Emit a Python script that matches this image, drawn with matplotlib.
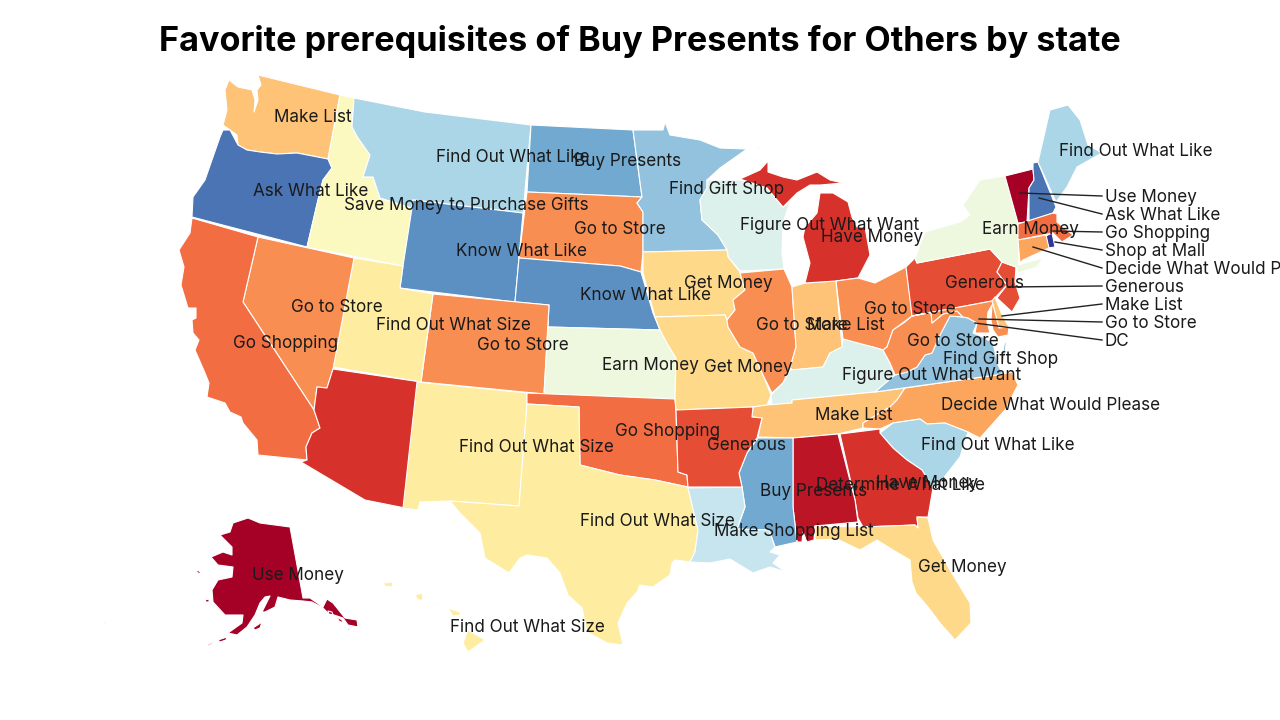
from matplotlib import pyplot as plt
from matplotlib.patches import Polygon

plt.rcParams['font.family'] = ['Inter', 'DejaVu Sans']

title = 'Favorite prerequisites of Buy Presents for Others by state'

# favorite prerequisite of each state
state_labels = {
    'AK': 'Use Money', 'VT': 'Use Money', 'AL': 'Determine What Like',
    'AZ': 'Have Money', 'MI': 'Have Money', 'GA': 'Have Money',
    'AR': 'Generous', 'PA': 'Generous', 'NJ': 'Generous',
    'CA': 'Go Shopping', 'OK': 'Go Shopping', 'MA': 'Go Shopping',
    'NV': 'Go to Store', 'CO': 'Go to Store', 'SD': 'Go to Store', 'IL': 'Go to Store',
    'OH': 'Go to Store', 'WV': 'Go to Store', 'MD': 'Go to Store',
    'NC': 'Decide What Would Please', 'CT': 'Decide What Would Please',
    'WA': 'Make List', 'TN': 'Make List', 'IN': 'Make List', 'DE': 'Make List',
    'IA': 'Get Money', 'MO': 'Get Money', 'FL': 'Get Money',
    'UT': 'Find Out What Size', 'NM': 'Find Out What Size', 'TX': 'Find Out What Size', 'HI': 'Find Out What Size',
    'ID': 'Save Money to Purchase Gifts', 'KS': 'Earn Money', 'NY': 'Earn Money',
    'WI': 'Figure Out What Want', 'KY': 'Figure Out What Want', 'LA': 'Make Shopping List',
    'MT': 'Find Out What Like', 'ME': 'Find Out What Like', 'SC': 'Find Out What Like',
    'MN': 'Find Gift Shop', 'VA': 'Find Gift Shop', 'ND': 'Buy Presents', 'MS': 'Buy Presents',
    'WY': 'Know What Like', 'NE': 'Know What Like', 'OR': 'Ask What Like', 'NH': 'Ask What Like',
    'RI': 'Shop at Mall',
}

label_colors = {
    'Use Money': '#a50026', 'Determine What Like': '#bb1526', 'Have Money': '#d6312b',
    'Generous': '#e54e35', 'Go Shopping': '#f36d42', 'Go to Store': '#f98e52',
    'Decide What Would Please': '#fca55d', 'Make List': '#fec376', 'Get Money': '#fed98a',
    'Find Out What Size': '#feeca0', 'Save Money to Purchase Gifts': '#fbf8c0', 'Earn Money': '#eef8df',
    'Figure Out What Want': '#ddf1ec', 'Make Shopping List': '#c6e5ef', 'Find Out What Like': '#abd6e8',
    'Find Gift Shop': '#92c2de', 'Buy Presents': '#72a9d0', 'Know What Like': '#5c90c2',
    'Ask What Like': '#4a74b4', 'Shop at Mall': '#313695',
}

# state outlines (no geodata available offline)
outlines = {
    'WA': [[(258,75),(340,95),(328,159),(297,153),(277,154),(260,152),(247,150),(238,145),(237,135),(230,130),(223,125),(227,110),(225,90),(229,80),(238,87),(252,90),(255,100),(254,112),(258,100),(257,90),(261,85)]],
    'OR': [[(223,130),(230,130),(238,145),(247,150),(260,152),(277,154),(297,153),(328,159),(332,168),(323,180),(318,200),(307,247),(192,217),(193,197),(205,180),(213,157),(220,137)]],
    'ID': [[(340,95),(354,98),(352,127),(358,138),(370,155),(363,177),(373,177),(380,198),(412,208),(403,266),(307,247),(318,200),(323,180),(332,168),(328,159)]],
    'MT': [[(354,98),(425,112),(531,125),(523,213),(413,200),(412,208),(380,198),(373,177),(363,177),(370,155),(358,138),(352,127)]],
    'WY': [[(413,200),(523,213),(515,302),(400,288),(403,266),(412,208)]],
    'ND': [[(531,125),(633,130),(642,197),(527,192)]],
    'SD': [[(527,192),(642,197),(637,203),(643,212),(643,252),(641,272),(620,266),(519,258)]],
    'NE': [[(519,258),(620,266),(641,272),(653,313),(660,330),(548,327),(549,305),(515,302)]],
    'CO': [[(433,294),(549,305),(544,394),(421,382)]],
    'UT': [[(354,258),(403,266),(400,288),(433,294),(421,382),(333,367)]],
    'NV': [[(258,237),(354,258),(333,369),(327,388),(317,387),(314,410),(243,302)]],
    'CA': [[(192,218),(258,237),(243,302),(314,410),(320,428),(312,433),(306,447),(307,460),(258,455),(257,440),(243,423),(241,417),(230,412),(225,403),(207,397),(209,383),(205,373),(195,350),(199,340),(193,333),(192,320),(196,318),(196,308),(188,308),(181,285),(184,267),(179,250),(190,233)]],
    'AZ': [[(333,369),(421,382),(405,508),(365,500),(301,462),(307,460),(306,447),(312,433),(320,428),(314,410),(317,387),(327,388)]],
    'NM': [[(417,382),(527,393),(527,404),(519,506),(450,501),(420,502),(418,510),(403,508)]],
    'KS': [[(548,327),(660,330),(668,345),(676,358),(675,399),(544,394)]],
    'OK': [[(527,393),(675,399),(676,410),(678,472),(687,475),(688,487),(655,480),(620,475),(580,465),(579,407),(527,404)]],
    'TX': [[(527,404),(579,407),(580,465),(620,475),(655,480),(688,487),(698,530),(695,552),(690,562),(675,560),(672,563),(670,575),(653,587),(640,585),(637,592),(627,603),(618,623),(623,645),(607,643),(587,632),(582,608),(568,595),(560,573),(547,558),(527,555),(520,558),(509,573),(485,558),(480,533),(460,513),(450,501),(519,506)]],
    'MN': [[(633,130),(663,130),(665,122),(670,135),(700,140),(720,148),(747,149),(720,168),(707,180),(707,188),(700,200),(702,220),(718,235),(727,250),(643,252),(643,212),(637,203),(642,197)]],
    'WI': [[(707,180),(740,180),(767,188),(783,207),(790,202),(783,223),(782,253),(784,269),(740,271),(728,257),(727,250),(718,235),(702,220),(700,200),(707,188)]],
    'IA': [[(643,252),(727,250),(728,257),(740,272),(745,290),(733,300),(735,310),(727,320),(725,315),(655,317),(643,273)]],
    'MO': [[(655,317),(725,315),(727,320),(728,327),(740,347),(753,353),(763,375),(771,395),(767,405),(753,407),(676,410),(675,399),(676,358),(668,345),(660,330)]],
    'IL': [[(740,273),(784,269),(792,287),(796,347),(790,368),(783,383),(772,393),(763,375),(753,353),(740,347),(728,327),(727,320),(735,310),(733,300),(745,290)]],
    'IN': [[(792,287),(805,283),(836,281),(842,347),(830,353),(823,367),(793,370),(790,368),(796,347)]],
    'MI': [[(805,283),(810,263),(803,237),(805,227),(817,213),(820,193),(833,193),(848,202),(852,217),(857,227),(865,227),(870,255),(858,278),(836,281)],
           [(740,179),(760,170),(768,161),(768,172),(783,177),(797,180),(817,172),(830,180),(843,183),(820,185),(810,185),(797,193),(783,207),(767,188)],
           [(754,151),(761,146),(760,148),(755,151)]],
    'OH': [[(836,281),(858,278),(875,283),(906,267),(910,297),(912,316),(893,330),(887,347),(883,350),(873,347),(853,343),(843,339)]],
    'KY': [[(772,405),(771,395),(783,383),(790,370),(823,367),(830,353),(842,347),(843,339),(873,347),(883,350),(890,363),(895,375),(875,392),(792,400),(792,403)]],
    'TN': [[(767,405),(792,403),(792,400),(875,392),(905,388),(897,400),(890,407),(863,423),(863,428),(838,434),(793,438),(758,437),(762,418),(752,417),(753,407)]],
    'NC': [[(905,388),(1003,374),(1012,372),(1018,385),(1005,410),(980,438),(968,432),(945,423),(927,424),(920,419),(893,423),(880,429),(863,428),(863,423),(890,407),(897,400)]],
    'SC': [[(880,433),(893,423),(920,419),(927,424),(945,423),(968,432),(960,457),(942,480),(933,488),(922,470),(907,460),(893,448)]],
    'GA': [[(840,434),(880,429),(880,433),(893,448),(907,460),(922,470),(933,488),(928,517),(917,517),(918,528),(915,525),(863,527),(858,518),(855,500)]],
    'AL': [[(793,438),(838,434),(855,500),(858,522),(815,526),(814,540),(807,542),(803,532),(802,542),(797,542),(793,507)]],
    'MS': [[(758,438),(793,438),(793,507),(797,542),(775,547),(769,530),(737,529),(745,507),(742,487),(739,473),(747,453)]],
    'LA': [[(688,488),(742,487),(745,507),(737,529),(769,530),(775,547),(770,552),(780,555),(773,563),(786,572),(770,567),(753,573),(730,559),(710,563),(690,562),(695,552),(698,530)]],
    'AR': [[(676,410),(753,407),(752,417),(762,418),(757,438),(747,453),(739,473),(742,487),(688,487),(687,475),(678,472)]],
    'FL': [[(815,526),(863,527),(915,525),(918,528),(917,517),(928,518),(933,540),(950,570),(970,603),(971,623),(955,640),(940,623),(928,607),(916,593),(912,582),(910,560),(893,550),(877,540),(860,550),(837,539),(815,540)]],
    'VA': [[(875,392),(895,375),(907,372),(917,367),(925,355),(932,353),(940,335),(950,316),(963,317),(968,318),(977,323),(973,333),(983,337),(993,343),(998,365),(1003,374)],
           [(1007,338),(1003,367),(1001,362),(1004,345)]],
    'WV': [[(912,316),(931,312),(932,323),(943,314),(957,311),(963,317),(950,316),(940,335),(932,353),(925,355),(917,367),(907,372),(895,375),(890,363),(883,350),(887,347),(893,330),(905,322)]],
    'PA': [[(906,267),(915,258),(917,263),(990,249),(1002,262),(997,272),(1007,285),(992,301),(912,316)]],
    'NJ': [[(1002,262),(1016,267),(1015,282),(1020,298),(1012,312),(997,298),(1007,285),(997,272)]],
    'DE': [[(992,301),(995,297),(1002,315),(1009,327),(999,328)]],
    'MD': [[(912,316),(992,301),(999,328),(1009,327),(1008,335),(998,337),(993,330),(991,320),(992,305),(988,312),(987,322),(990,333),(985,333),(975,333),(977,323),(968,318),(963,317),(957,311),(943,314),(932,323),(931,312)]],
    'NY': [[(1005,176),(1018,223),(1020,240),(1018,265),(1043,258),(1037,267),(1018,273),(1016,267),(1002,262),(990,249),(917,263),(915,258),(925,232),(960,222),(970,215),(963,205),(980,180)]],
    'VT': [[(1005,176),(1033,169),(1034,180),(1029,188),(1027,222),(1018,223)]],
    'NH': [[(1033,163),(1038,162),(1056,207),(1053,213),(1029,221),(1029,188),(1034,180),(1033,169)]],
    'ME': [[(1038,162),(1050,110),(1068,105),(1080,120),(1088,145),(1102,153),(1093,158),(1077,167),(1067,187),(1056,202)]],
    'MA': [[(1018,224),(1053,213),(1057,214),(1057,222),(1073,235),(1062,242),(1053,233),(1018,240)]],
    'RI': [[(1046,236),(1052,233),(1055,247),(1048,248)]],
    'CT': [[(1018,240),(1046,235),(1049,248),(1023,260),(1020,263)]],
    'AK': [[(248,518),(260,523),(290,527),(303,598),(310,598),(323,607),(327,599),(333,603),(345,618),(357,620),(358,627),(348,625),(343,618),(328,613),(323,608),(312,602),(303,601),(290,600),(278,597),(275,607),(265,612),(262,612),(267,602),(270,596),(265,597),(260,603),(255,615),(247,627),(237,635),(228,633),(242,623),(243,615),(225,615),(213,602),(212,590),(218,580),(232,577),(233,567),(218,565),(211,557),(223,552),(232,555),(232,547),(220,535),(230,532),(233,523)],
           [(253,628),(262,622),(260,628),(255,630)],
           [(207,645),(213,642),(212,644),(208,646)],
           [(218,640),(227,637),(226,640),(220,642)],
           [(195,570),(199,571),(202,574),(198,573)],
           [(205,600),(209,599),(209,602),(206,602)],
           [(328,611),(332,612),(333,615),(329,614)],
           [(337,617),(342,620),(343,623),(339,621)],
           [(347,628),(350,629),(349,631)],
           [(188,652),(190,650),(190,652)],
           [(104,623),(106,622),(106,624)]],
    'HI': [[(383,583),(393,582),(392,587),(385,586)],
           [(415,595),(422,593),(423,600),(418,600)],
           [(435,604),(440,603),(440,605)],
           [(448,608),(460,612),(460,615),(453,616)],
           [(468,630),(485,640),(468,652),(463,643)]],
}

# labels sitting on the map: text, centre x, centre y
map_texts = ['Make List', 'Ask What Like', 'Find Out What Like', 'Save Money to Purchase Gifts', 'Buy Presents',
             'Find Gift Shop', 'Figure Out What Want', 'Have Money', 'Find Out What Like', 'Earn Money',
             'Go to Store', 'Know What Like', 'Get Money', 'Know What Like', 'Generous',
             'Go to Store', 'Find Out What Size', 'Go to Store', 'Go Shopping', 'Go to Store',
             'Make List', 'Go to Store', 'Go to Store', 'Find Gift Shop', 'Figure Out What Want',
             'Earn Money', 'Get Money', 'Decide What Would Please', 'Make List', 'Go Shopping',
             'Generous', 'Find Out What Size', 'Find Out What Like', 'Have Money', 'Determine What Like',
             'Buy Presents', 'Find Out What Size', 'Make Shopping List', 'Get Money', 'Use Money',
             'Find Out What Size']
map_x = [313, 311, 513, 466, 628, 727, 830, 872, 1136, 1030, 620, 521, 728, 645, 985, 337, 453, 523, 286, 802,
         846, 910, 953, 1001, 932, 650, 748, 1051, 854, 668, 746, 536, 998, 927, 900, 814, 657, 794, 962, 298, 527]
map_y = [118, 192, 158, 205, 162, 190, 225, 238, 152, 229, 230, 252, 284, 295, 283, 308, 325, 345, 343, 326,
         325, 310, 341, 360, 376, 365, 367, 405, 416, 431, 445, 447, 446, 483, 486, 492, 522, 531, 568, 575, 627]

# labels off the coast with a leader line
side_texts = ['Use Money', 'Ask What Like', 'Go Shopping', 'Shop at Mall', 'Decide What Would Please',
              'Generous', 'Make List', 'Go to Store', 'DC']
side_y = [196, 214, 232, 250, 268, 286, 304, 322, 340]
leader_x = [1020, 1039, 1053, 1055, 1033, 1008, 1002, 979, 975]
leader_y = [193, 198, 231, 242, 247, 287, 316, 319, 323]

fig = plt.figure(figsize=(12.8, 7.2), dpi=100)
ax = fig.add_axes([0, 0, 1, 1])
ax.set_xlim(0, 1280)
ax.set_ylim(720, 0)
ax.axis('off')

for state, parts in outlines.items():
    color = label_colors[state_labels[state]]
    for part in parts:
        ax.add_patch(Polygon(part, closed=True, facecolor=color, edgecolor='white', linewidth=0.8, joinstyle='round'))

for text, x, y in zip(map_texts, map_x, map_y):
    ax.text(x, y, text, ha='center', va='center', fontsize=12.3, color='#1a1a1a', zorder=5)

for text, y, lx, ly in zip(side_texts, side_y, leader_x, leader_y):
    ax.plot([lx, 1102], [ly, y], color='#222222', linewidth=1, zorder=4)
    ax.text(1105, y + 1, text, ha='left', va='center', fontsize=12.3, color='#1a1a1a', zorder=5, clip_on=True)

ax.text(640, 42, title, ha='center', va='center', fontsize=24.6, fontweight='bold', color='black')

fig.savefig('out.png', dpi=100)
